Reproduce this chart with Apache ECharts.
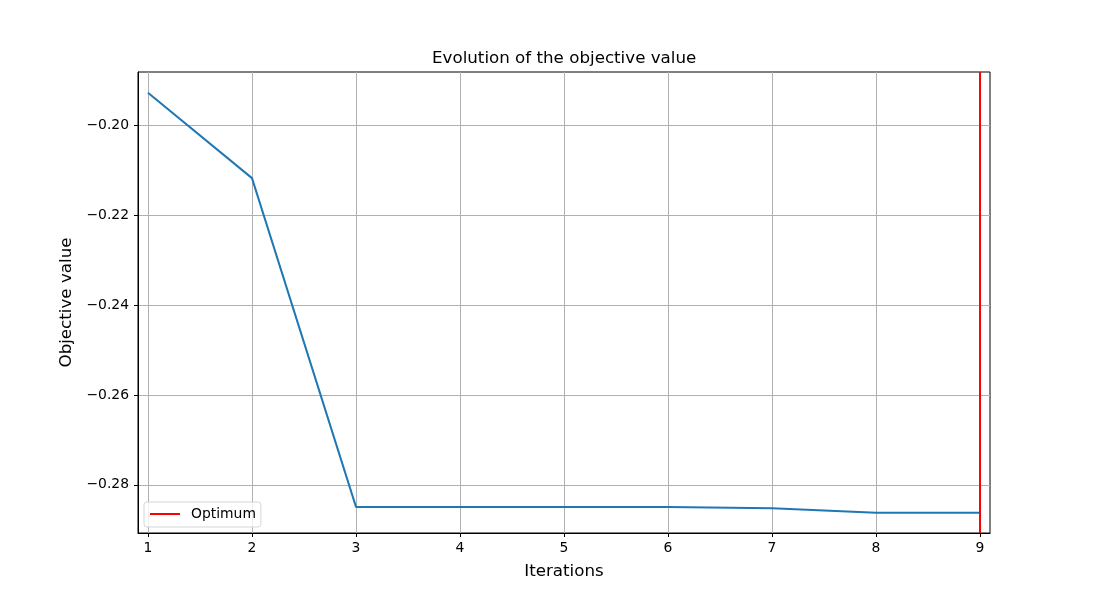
<!doctype html>
<html>
<head>
    <meta charset="utf-8">
    <title>Evolution of the objective value</title>
    <style>
        body { margin: 0; background: #fff; }
        #chart { width: 1100px; height: 600px; }
    </style>
</head>
<body>
    <div id="chart"></div>
    <script src="https://cdn.jsdelivr.net/npm/echarts@6/dist/echarts.min.js"></script>
    <script>
        var iterations = [1, 2, 3, 4, 5, 6, 7, 8, 9];
        var objective = [-0.1928, -0.2118, -0.2849, -0.2849, -0.2849, -0.2849, -0.2852, -0.2862, -0.2862];
        var optimumIter = 9;
        var xTicks = [1, 2, 3, 4, 5, 6, 7, 8, 9];
        var yTicks = [-0.28, -0.26, -0.24, -0.22, -0.20];
        var xRange = [0.904, 9.096];
        var yRange = [-0.2907, -0.1882];

        var font = 'DejaVu Sans';
        var points = iterations.map(function (it, i) { return [it, objective[i]]; });

        var fmtY = function (v) {
            return (v < 0 ? '\u2212' : '') + Math.abs(v).toFixed(2);
        };

        var chart = echarts.init(document.getElementById('chart'));
        chart.setOption({
            animation: false,
            title: {
                text: 'Evolution of the objective value',
                left: 427,
                top: 45,
                textStyle: { fontFamily: font, fontSize: 16.7, fontWeight: 'normal', color: '#000' }
            },
            grid: {
                left: 138, right: 110, top: 72, bottom: 67,
                show: true, borderColor: '#000', borderWidth: 1
            },
            legend: {
                data: ['Optimum'],
                left: 144, top: 502,
                orient: 'vertical',
                backgroundColor: 'rgba(255,255,255,0.8)',
                borderColor: '#d5d5d5', borderWidth: 1, borderRadius: 3,
                padding: [5, 5, 6, 5],
                itemWidth: 30, itemHeight: 2,
                itemGap: 4,
                textStyle: { fontFamily: font, fontSize: 13.9, color: '#000', padding: [0, 0, 0, 6] }
            },
            xAxis: {
                type: 'value',
                min: xRange[0], max: xRange[1],
                name: 'Iterations',
                nameLocation: 'middle',
                nameGap: 30,
                nameTextStyle: { fontFamily: font, fontSize: 16.7, color: '#000' },
                axisLine: { show: true, lineStyle: { color: '#000', width: 1 } },
                axisTick: { show: true, customValues: xTicks, length: 4, lineStyle: { color: '#000' } },
                axisLabel: { customValues: xTicks, margin: 8, fontFamily: font, fontSize: 13.9, color: '#000' },
                splitLine: { show: true, lineStyle: { color: '#b0b0b0', width: 1 } }
            },
            yAxis: {
                type: 'value',
                min: yRange[0], max: yRange[1],
                name: 'Objective value',
                nameLocation: 'middle',
                nameGap: 62,
                nameTextStyle: { fontFamily: font, fontSize: 16.7, color: '#000' },
                axisLine: { show: true, lineStyle: { color: '#000', width: 1 } },
                axisTick: { show: true, customValues: yTicks, length: 4, lineStyle: { color: '#000' } },
                axisLabel: { customValues: yTicks, margin: 9, fontFamily: font, fontSize: 13.9, color: '#000', formatter: fmtY },
                splitLine: { show: true, lineStyle: { color: '#b0b0b0', width: 1 } }
            },
            series: [
                {
                    name: 'Objective',
                    type: 'line',
                    data: points,
                    showSymbol: false,
                    symbol: 'none',
                    lineStyle: { color: '#1f77b4', width: 2 },
                    itemStyle: { color: '#1f77b4' }
                },
                {
                    name: 'Optimum',
                    type: 'line',
                    data: [[optimumIter, yRange[0]], [optimumIter, yRange[1]]],
                    showSymbol: false,
                    symbol: 'none',
                    lineStyle: { color: '#ff0000', width: 2 },
                    itemStyle: { color: '#ff0000' }
                }
            ]
        });
    </script>
</body>
</html>
